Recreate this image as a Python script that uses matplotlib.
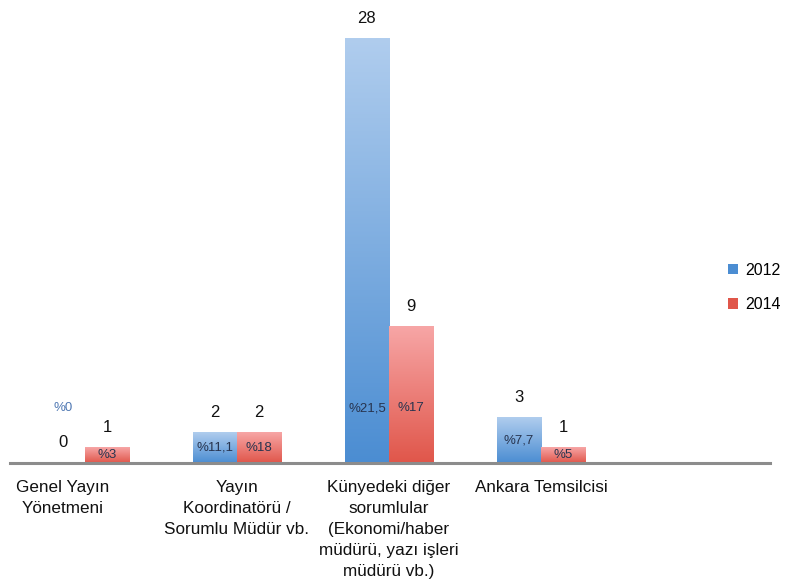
import numpy as np
import matplotlib
matplotlib.use("Agg")
import matplotlib.pyplot as plt
from matplotlib.colors import LinearSegmentedColormap
from matplotlib.patches import Patch

plt.rcParams['font.family'] = ['Liberation Sans', 'DejaVu Sans']

# data
categories = ["Genel Yayın\nYönetmeni",
              "Yayın\nKoordinatörü /\nSorumlu Müdür vb.",
              "Künyedeki diğer\nsorumlular\n(Ekonomi/haber\nmüdürü, yazı işleri\nmüdürü vb.)",
              "Ankara Temsilcisi"]
years = ["2012", "2014"]
vals_2012 = [0, 2, 28, 3]
vals_2014 = [1, 2, 9, 1]
pct_2012 = ["%0", "%11,1", "%21,5", "%7,7"]
pct_2014 = ["%3", "%18", "%17", "%5"]

# styles
blue = ("#4b8dd2", "#b0cdee")   # bottom, top
red = ("#e0564a", "#f7a6a6")
w = 0.29

fig = plt.figure(figsize=(7.9, 5.87), dpi=100)
ax = fig.add_axes([0.0127, 0.2112, 0.962, 0.7743])

x = np.arange(len(categories))
grad = np.linspace(0, 1, 256).reshape(-1, 1)


def grad_bars(xs, vals, cols, pcts):
    cmap = LinearSegmentedColormap.from_list("g", list(cols))
    for xi, v, p in zip(xs, vals, pcts):
        if v > 0:
            ax.imshow(grad, extent=(xi - w / 2, xi + w / 2, 0, v), origin='lower',
                      aspect='auto', cmap=cmap, zorder=2, interpolation='bilinear')
        ax.annotate(str(v), (xi, v), xytext=(0, 14.5), textcoords='offset points',
                    ha='center', va='center', fontsize=12, color='#111111')
        if v > 0:
            ax.text(xi, min(v / 2, 3.6), p, ha='center', va='center',
                    fontsize=9.5, color='#27344f', zorder=3)
        else:
            ax.text(xi, 3.6, p, ha='center', va='center', fontsize=9.5,
                    color='#4f78b3', zorder=3)


grad_bars(x - w / 2, vals_2012, blue, pct_2012)
grad_bars(x + w / 2, vals_2014, red, pct_2014)

# category labels under the axis
label_x = x.astype(float)
label_x[0] -= w / 2
for lx, c in zip(label_x, categories):
    ax.annotate(c, (lx, 0), xytext=(0, -12), textcoords='offset points',
                ha='center', va='top', fontsize=12.3, color='#111111',
                linespacing=1.5, annotation_clip=False)

ax.axhline(0, color='#8c8c8c', lw=2.2, zorder=4, clip_on=False)
ax.set_xlim(-0.493, 4.507)
ax.set_ylim(0, 30)
ax.axis('off')

handles = [Patch(facecolor=blue[0], edgecolor='none'),
           Patch(facecolor=red[0], edgecolor='none')]
fig.legend(handles, years, loc='upper left', bbox_to_anchor=(728 / 790, 1 - 263 / 587),
           frameon=False, fontsize=11.5, handlelength=0.6, handleheight=0.6,
           handletextpad=0.5, labelspacing=1.2, borderpad=0, borderaxespad=0)

fig.savefig("out.png", dpi=100)
